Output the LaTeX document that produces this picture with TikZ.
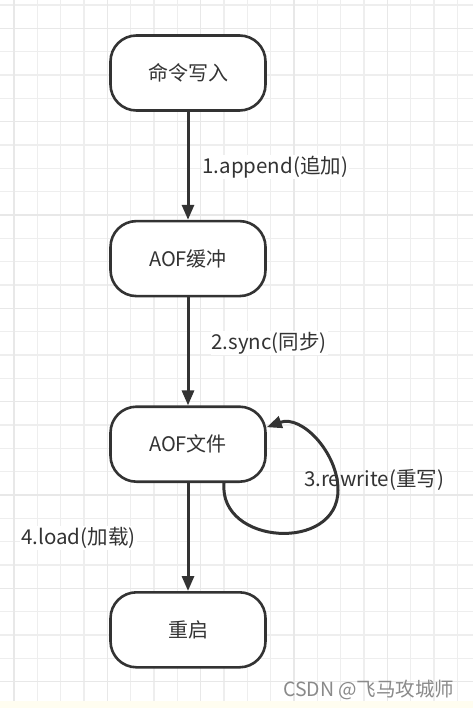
\documentclass[tikz,border=0pt]{standalone}
\usepackage{fontspec}
\setmainfont{Noto Sans CJK SC}
\usetikzlibrary{arrows.meta,positioning}
\definecolor{ink}{HTML}{333333}
\definecolor{gridminor}{HTML}{EEEEEE}
\definecolor{gridmajor}{HTML}{E8E8E8}
\definecolor{band}{HTML}{FFFDF0}
\definecolor{mark}{HTML}{8A8A8A}

\begin{document}
\begin{tikzpicture}
[x=1pt,y=1pt,
node distance=108pt,
state/.style={shape=rectangle,draw=ink,line width=2.6pt,fill=white,rounded corners=26pt,
  minimum width=155pt,minimum height=75pt,text=ink,font=\fontsize{20}{23}\selectfont},
flow/.style={draw=ink,line width=3pt,-{Triangle[length=15pt,width=12pt]}},
lbl/.style={fill=white,inner sep=1pt,text=ink,font=\fontsize{20.5}{23}\selectfont},
minor/.style={draw=gridminor,line width=1.2pt},
major/.style={draw=gridmajor,line width=1.5pt}]
\useasboundingbox (0,0) rectangle (473,-708);
%%
% grid
%%
\fill[white] (0,0) rectangle (473,-708);
\foreach \k in {0,...,19}
  \draw[minor] (14+23.333*\k,0) -- (14+23.333*\k,-708);
\foreach \k in {0,...,30}
  \draw[minor] (0,-5-23.333*\k) -- (473,-5-23.333*\k);
\foreach \k in {0,...,4}
  \draw[major] (14+93.333*\k,0) -- (14+93.333*\k,-708);
\foreach \k in {0,...,7}
  \draw[major] (0,-28.333-93.333*\k) -- (473,-28.333-93.333*\k);
\fill[band] (0,-701) rectangle (473,-708);
%%
% states
%%
\node[state] (cmd) at (188,-73) {命令写入};
\node[state,below=of cmd] (buf) {AOF缓冲};
\node[state,below=of buf] (file) {AOF文件};
\node[state,below=of file] (boot) {重启};
%%
% flows
%%
\draw[flow] (cmd) -- node[lbl,right,xshift=12pt,yshift=-1pt] {1.append(追加)} (buf);
\draw[flow] (buf) -- node[lbl,right,xshift=21pt,yshift=8pt] {2.sync(同步)} (file);
\draw[flow] (file) -- node[lbl,left,xshift=-50pt,yshift=-1pt] {4.load(加载)} (boot);
%% rewrite loop
\coordinate (turn) at (338,-490);
\draw[flow] ([xshift=36pt]file.south) to[out=-95,in=-90,looseness=1.4] (turn)
  to[out=90,in=20] ([yshift=17pt]file.east);
\node[lbl,fill=none] (rw) at (374,-480) {3.rewrite(重写)};
%%
% watermark
%%
\node[text=mark,font=\fontsize{19.5}{21}\selectfont,anchor=east] (wm) at (458,-690) {CSDN @飞马攻城师};
\end{tikzpicture}
\end{document}
